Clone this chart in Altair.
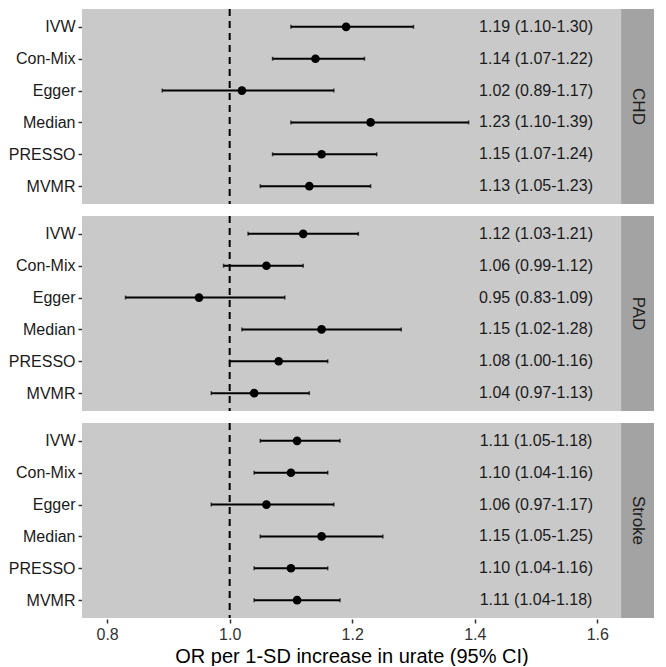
import altair as alt
import pandas as pd

outcomes = ["CHD", "PAD", "Stroke"]
methods = ["IVW", "Con-Mix", "Egger", "Median", "PRESSO", "MVMR"]

or_chd = [1.19, 1.14, 1.02, 1.23, 1.15, 1.13]
lo_chd = [1.10, 1.07, 0.89, 1.10, 1.07, 1.05]
hi_chd = [1.30, 1.22, 1.17, 1.39, 1.24, 1.23]

or_pad = [1.12, 1.06, 0.95, 1.15, 1.08, 1.04]
lo_pad = [1.03, 0.99, 0.83, 1.02, 1.00, 0.97]
hi_pad = [1.21, 1.12, 1.09, 1.28, 1.16, 1.13]

or_stroke = [1.11, 1.10, 1.06, 1.15, 1.10, 1.11]
lo_stroke = [1.05, 1.04, 0.97, 1.05, 1.04, 1.04]
hi_stroke = [1.18, 1.16, 1.17, 1.25, 1.16, 1.18]

x_ticks = [0.8, 1.0, 1.2, 1.4, 1.6]

rows = []
for name, ors, los, his in [("CHD", or_chd, lo_chd, hi_chd),
                            ("PAD", or_pad, lo_pad, hi_pad),
                            ("Stroke", or_stroke, lo_stroke, hi_stroke)]:
    for m, o, l, h in zip(methods, ors, los, his):
        rows.append({"outcome": name, "method": m, "or": o, "lo": l, "hi": h,
                     "label": f"{o:.2f} ({l:.2f}-{h:.2f})"})
df = pd.DataFrame(rows)

FONT = "Liberation Sans"
W = 572
H = 195
XMIN, XPANEL, XMAX = 0.759, 1.639, 1.6925

xscale = alt.Scale(domain=[XMIN, XMAX], nice=False, zero=False)
x_axis = alt.Axis(values=x_ticks, format=".1f", grid=False, domain=False,
                  tickSize=4, tickWidth=1.5, tickColor="#333333",
                  labelFontSize=16, labelColor="#333333", labelFont=FONT,
                  labelPadding=3,
                  title="OR per 1-SD increase in urate (95% CI)",
                  titleFontSize=20, titleFont=FONT, titleFontWeight="normal",
                  titleColor="#000000", titleX=(W - 33) / 2, titleAlign="center",
                  titlePadding=4)
yscale = alt.Scale(type="point", domain=methods, padding=0.56)
y_enc = alt.Y("method:N", scale=yscale, sort=methods, title=None,
              axis=alt.Axis(domain=False, grid=False, tickSize=4, tickWidth=1.5,
                            tickColor="#333333", labelFontSize=16,
                            labelColor="#1a1a1a", labelFont=FONT, labelPadding=3))

base = alt.Chart().properties(width=W, height=H)

strip = base.mark_rect(color="#a3a3a3").encode(
    x=alt.X("xs:Q", scale=xscale, axis=x_axis),
    x2=alt.datum(XMAX),
    y=alt.value(0), y2=alt.value(H)
).transform_filter(alt.datum.method == "IVW").transform_calculate(xs=str(XPANEL))

strip_text = base.mark_text(angle=90, fontSize=17, font=FONT, color="#1a1a1a").encode(
    x=alt.datum((XPANEL + XMAX) / 2, scale=xscale),
    y=alt.value(H / 2),
    text="outcome:N"
).transform_filter(alt.datum.method == "IVW")

vline = base.mark_rule(strokeDash=[7, 5], strokeWidth=2, color="black").encode(
    x=alt.datum(1.0)
).transform_filter(alt.datum.method == "IVW")

bars = base.mark_rule(strokeWidth=2, color="black").encode(
    x=alt.X("lo:Q", scale=xscale), x2="hi:Q", y=y_enc)

caps_lo = base.mark_tick(orient="vertical", size=4, thickness=1.5, color="black").encode(
    x=alt.X("lo:Q", scale=xscale), y=y_enc)
caps_hi = base.mark_tick(orient="vertical", size=4, thickness=1.5, color="black").encode(
    x=alt.X("hi:Q", scale=xscale), y=y_enc)

points = base.mark_point(filled=True, size=75, color="black", opacity=1).encode(
    x=alt.X("or:Q", scale=xscale), y=y_enc)

labels = base.mark_text(fontSize=16, font=FONT, color="#1a1a1a").encode(
    x=alt.datum(1.5, scale=xscale), y=y_enc, text="label:N")

layer = alt.layer(strip, strip_text, vline, bars, caps_lo, caps_hi, points, labels)

chart = layer.facet(
    data=df,
    row=alt.Row("outcome:N", sort=outcomes, header=None),
    spacing=10
).resolve_scale(x="shared", y="shared").configure_view(
    fill="#c9c9c9", strokeWidth=0
).properties(padding={"left": 0, "top": 0, "right": 0, "bottom": 0})

chart.save("out.html", embed_options={"renderer": "svg", "actions": False})
